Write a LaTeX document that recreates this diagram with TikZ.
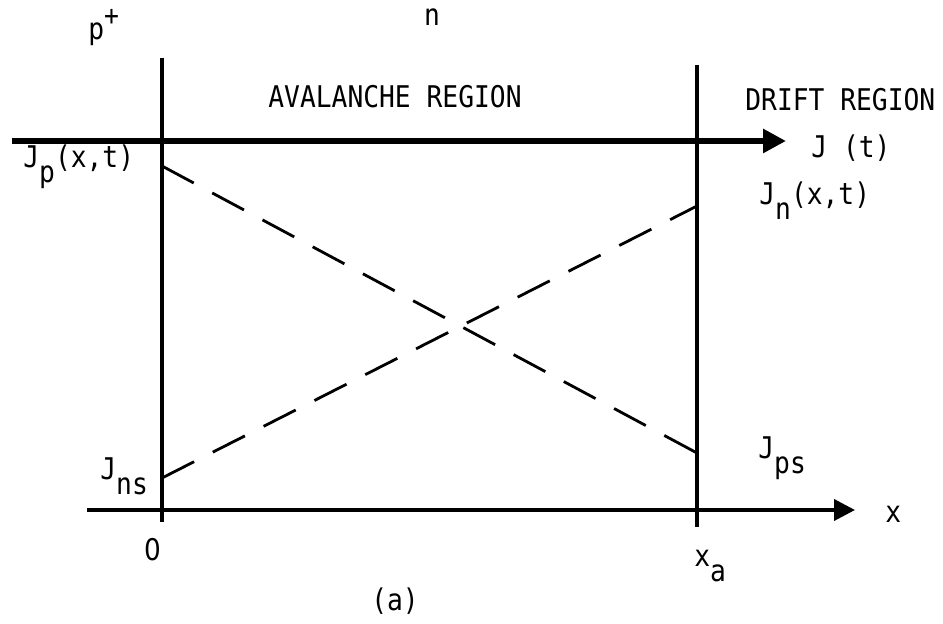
\documentclass[tikz,border=0pt]{standalone}
\usepackage{fontspec}
\setmainfont{DejaVu Sans Mono}[FakeStretch=0.88]
\newfontfamily\zerofont{DejaVu Sans}[FakeStretch=0.88]
\usetikzlibrary{positioning,calc}
\usetikzlibrary{arrows.meta}
\newcommand{\lowsub}[1]{\raisebox{-0.5em}{#1}}
\tikzset{
	jaxis/.style={draw=black,line width=3.4pt,-{Triangle[length=0.46cm,width=0.46cm]}},
	xaxis/.style={draw=black,line width=2.2pt,-{Triangle[length=0.42cm,width=0.42cm]}},
	wall/.style={draw=black,line width=2.2pt},
	curr/.style={draw=black,line width=1.6pt,dash pattern=on 0.72cm off 0.42cm},
	lbl/.style={inner sep=0pt,font=\fontsize{17}{20}\selectfont},
}
\begin{document}
\begin{tikzpicture}
	\useasboundingbox (-3.24,-2.28) rectangle (15.62,10.2);
	% junction walls and axes
	\coordinate (wl-top) at (0,9.04);
	\coordinate (wl-bot) at (0,-0.24);
	\coordinate (wr-top) at (10.7,8.9);
	\coordinate (wr-bot) at (10.7,-0.34);
	\coordinate (jt-start) at (-3.0,7.38);
	\coordinate (jt-end) at (12.48,7.38);
	\coordinate (x-start) at (-1.5,0);
	\coordinate (x-end) at (13.86,0);
	\coordinate (jp-0) at (0,6.88);
	\coordinate (jp-a) at (10.7,1.14);
	\coordinate (jn-0) at (0,0.64);
	\coordinate (jn-a) at (10.7,6.08);
	\foreach \u/\w in {wl-top/wl-bot,wr-top/wr-bot}
	\draw[wall] (\u)--(\w);
	\draw[jaxis] (jt-start)--(jt-end);
	\draw[xaxis] (x-start)--(x-end);
	\foreach \u/\w in {jp-0/jp-a,jn-0/jn-a}
	\draw[curr] (\u)--(\w);
	% labels
	\node[lbl,anchor=base west] (pplus) at (-1.48,9.4) {p\raisebox{0.5em}{\fontsize{16}{16}\selectfont +}};
	\node[lbl,anchor=base] (nlbl) at (5.4,9.68) {n};
	\node[lbl,anchor=base] (aval) at (4.66,8.04) {AVALANCHE REGION};
	\node[lbl,anchor=base west] (drift) at (11.66,7.98) {DRIFT REGION};
	\node[lbl,anchor=base west] (jt) at (12.98,7.04) {J (t)};
	\node[lbl,anchor=base west] (jp) at (-2.78,6.84) {J\lowsub{p}(x,t)};
	\node[lbl,anchor=base west] (jn) at (11.94,6.1) {J\lowsub{n}(x,t)};
	\node[lbl,anchor=base west] (jns) at (-1.24,0.6) {J\lowsub{ns}};
	\node[lbl,anchor=base west] (jps) at (11.92,1.02) {J\lowsub{ps}};
	\node[lbl,anchor=base] (zero) at (-0.18,-1.0) {\zerofont 0};
	\node[lbl,anchor=base west] (xa) at (10.64,-1.14) {x\lowsub{a}};
	\node[lbl,anchor=base west] (xlbl) at (14.46,-0.26) {x};
	\node[lbl,anchor=base] (cap) at (4.66,-2.0) {(a)};
\end{tikzpicture}
\end{document}
